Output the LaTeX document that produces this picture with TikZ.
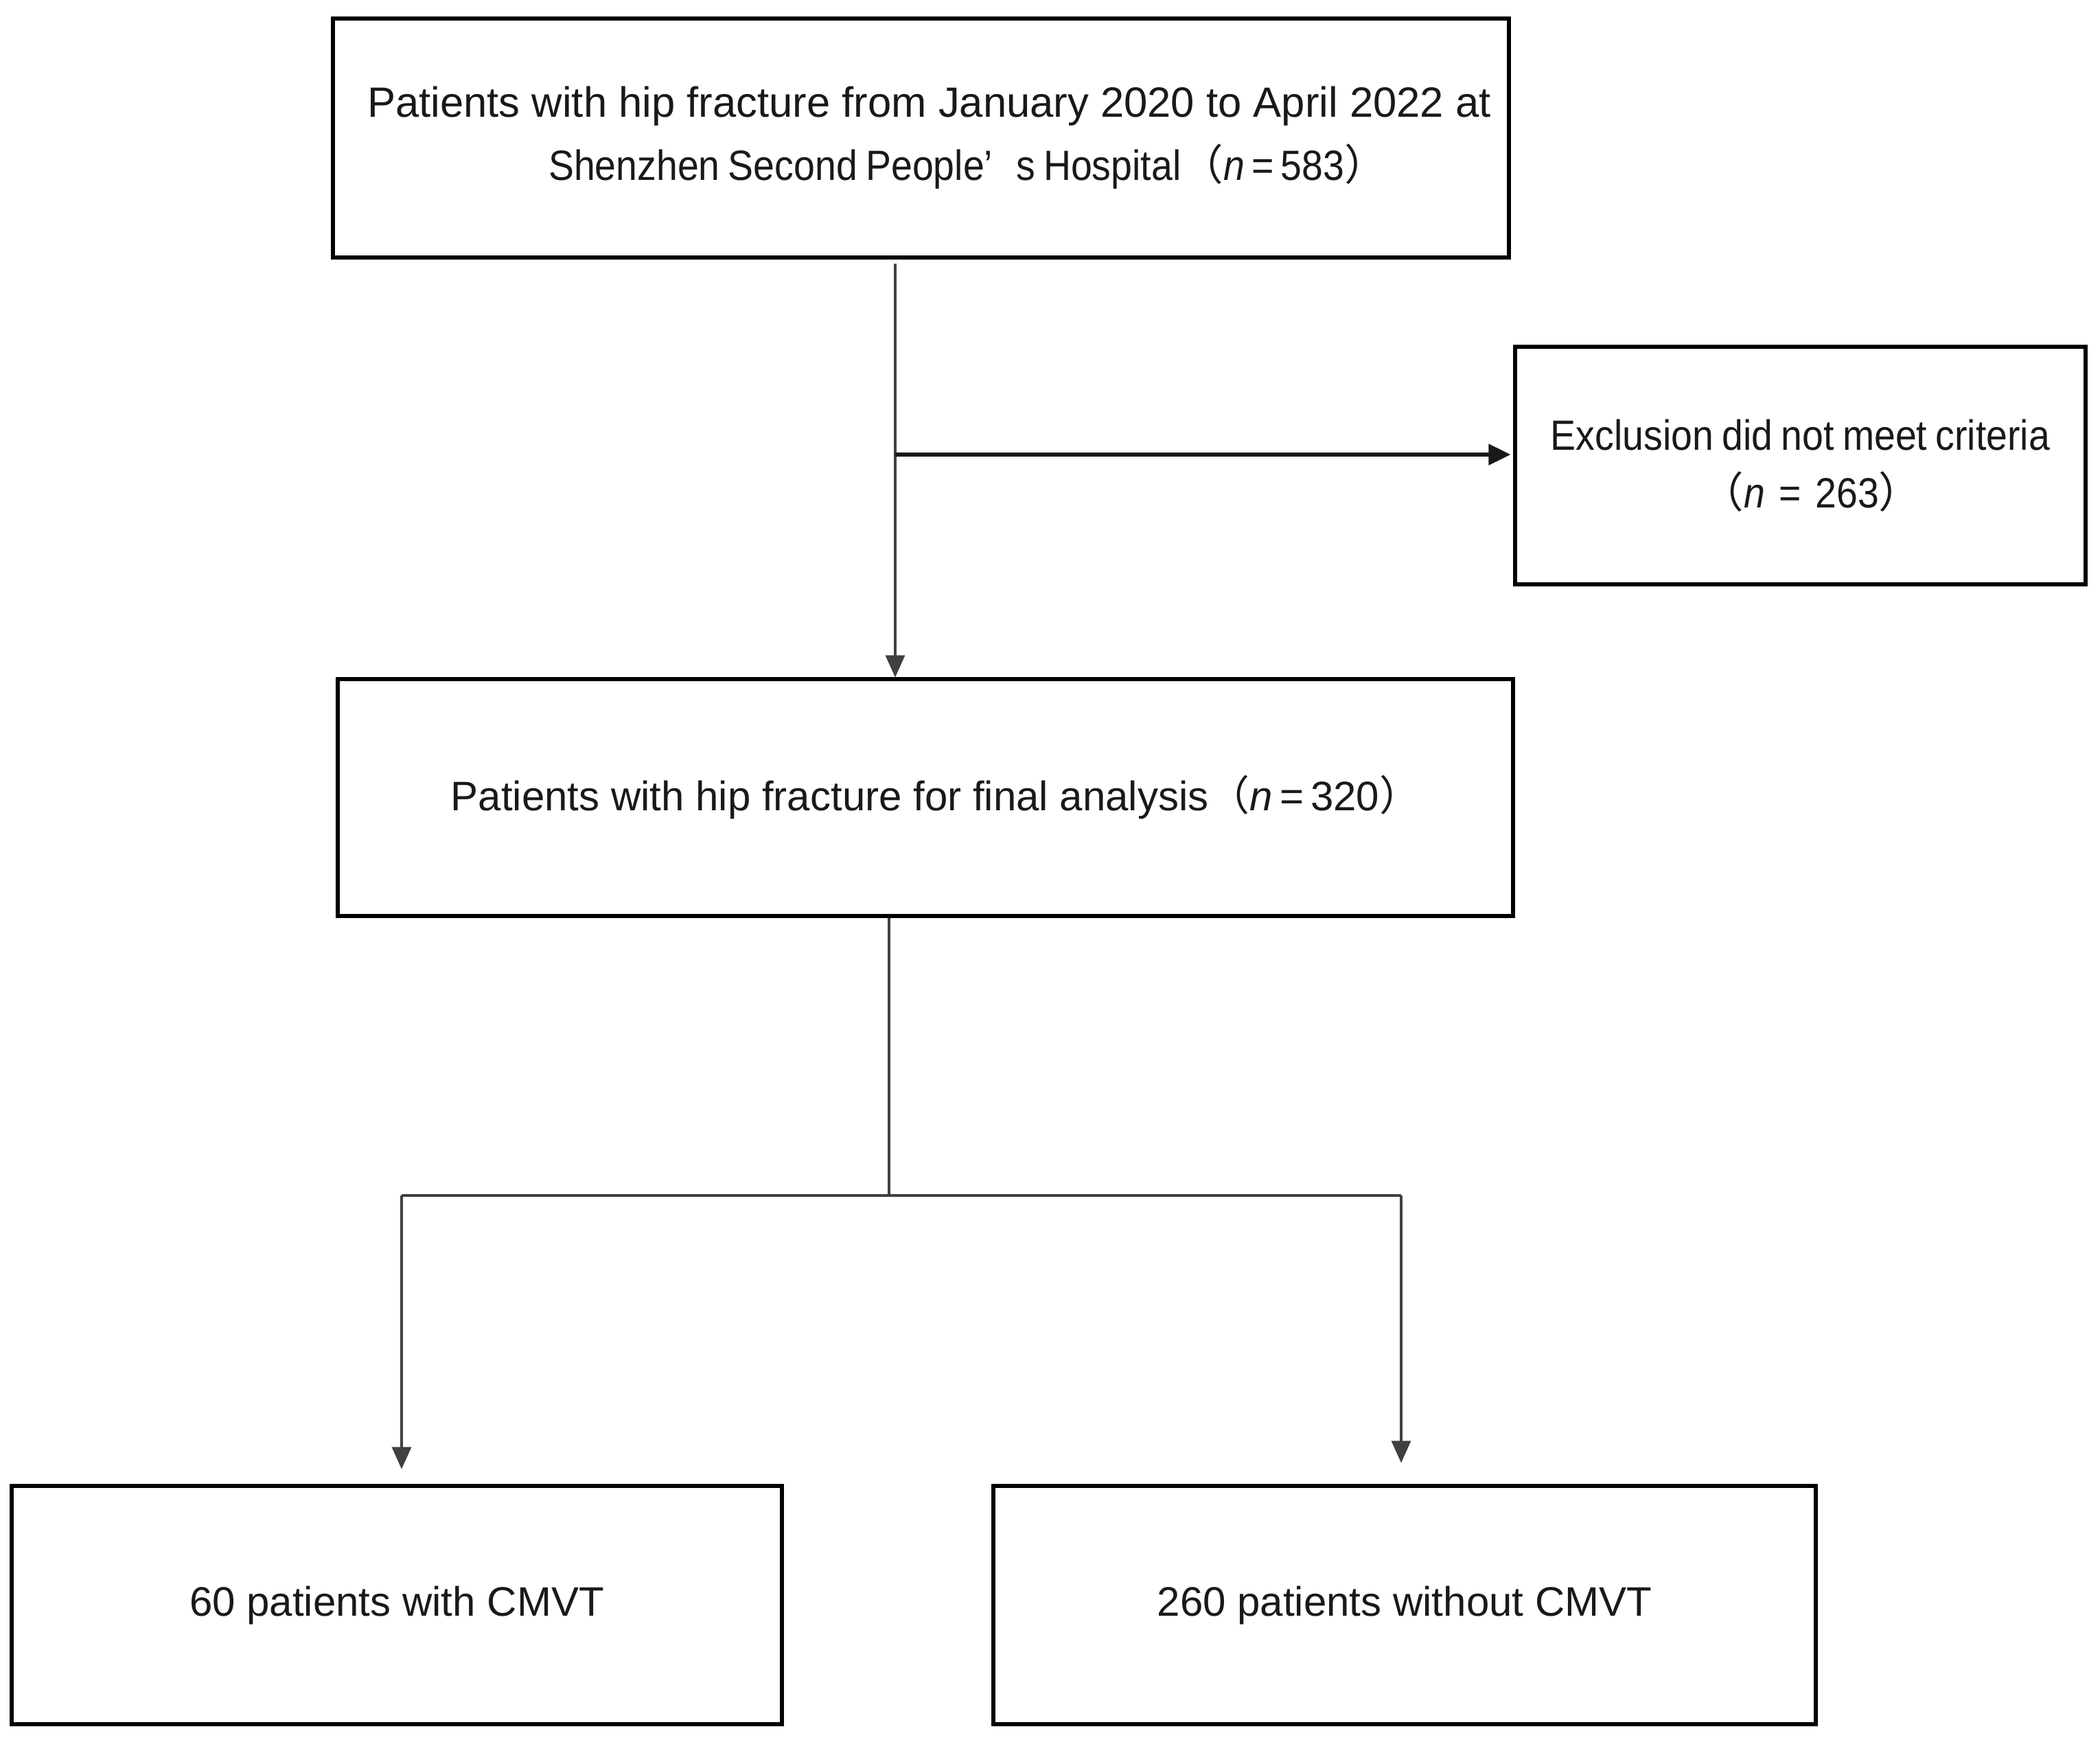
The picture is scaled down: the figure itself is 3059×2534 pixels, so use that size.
\documentclass[tikz,border=0pt]{standalone}
\usepackage{fontspec}
\setmainfont{Liberation Sans}
\newfontfamily\condfont[FakeStretch=0.9]{Liberation Sans}
\newfontfamily\cjkfont{Noto Sans CJK SC}
\usetikzlibrary{arrows.meta}
\newcommand{\myLP}{{\cjkfont （}}
\newcommand{\myRP}{{\cjkfont ）}}
\newcommand{\myAP}{’\hspace{0.55em}}
\tikzset{
  box/.style={draw=black, line width=1.3pt, rectangle, inner sep=0pt, align=center,
    font=\fontsize{15pt}{23pt}\selectfont, text=black!90},
  conn/.style={draw=black!75, line width=0.8pt},
  arr/.style={conn, -{Triangle[length=8pt,width=7pt]}},
  arrb/.style={draw=black!90, line width=1.3pt, -{Triangle[length=8pt,width=7.5pt]}}
}
\begin{document}
\begin{tikzpicture}[x=0.25pt, y=-0.25pt]
\useasboundingbox[fill=white] (0,0) rectangle (3059,2534);

\node[box, minimum width=428.25pt, minimum height=87pt] (top) at (1341.5,201)
  {\hspace*{6pt}{\fontsize{15.4pt}{23pt}\selectfont Patients with hip fracture from January 2020 to April 2022 at}\\
   \hspace*{34pt}{\fontsize{15.4pt}{23pt}\selectfont\condfont\spaceskip=0.2em Shenzhen Second People\myAP s Hospital\myLP\textit{n}\,=\,583\myRP}};

\node[box, minimum width=207.75pt, minimum height=86.5pt,
      font=\fontsize{15.4pt}{21pt}\selectfont\condfont] (excl) at (2622.5,678)
  {{\spaceskip=0.2em Exclusion did not meet criteria}\\ \hspace*{8pt}\myLP\textit{n}\,\,=\,\,263\myRP};

\node[box, minimum width=428pt, minimum height=86.25pt] (mid) at (1348,1161.5)
  {\hspace*{0.5em}Patients with hip fracture for final analysis\myLP\textit{n}\,=\,320\myRP};

\node[box, minimum width=280.5pt, minimum height=86.75pt] (bl) at (578,2337.5)
  {60 patients with CMVT};

\node[box, minimum width=299.5pt, minimum height=86.75pt] (br) at (2046,2337.5)
  {260 patients without CMVT};

\coordinate (bj) at (1304,662);
\coordinate (s) at (1295,1741);
\coordinate (sl) at (585,1741);
\coordinate (sr) at (2041,1741);

\draw[arr, shorten <=1.5pt] (top.south -| bj) -- (mid.north -| bj);
\draw[arrb, shorten >=1pt] (bj) -- (excl.west |- bj);
\draw[conn] (mid.south -| s) -- (s);
\draw[conn] (sl) -- (sr);
\draw[arr, shorten >=5.5pt] (sl) -- (bl.north -| sl);
\draw[arr, shorten >=7.75pt] (sr) -- (br.north -| sr);
\end{tikzpicture}
\end{document}
